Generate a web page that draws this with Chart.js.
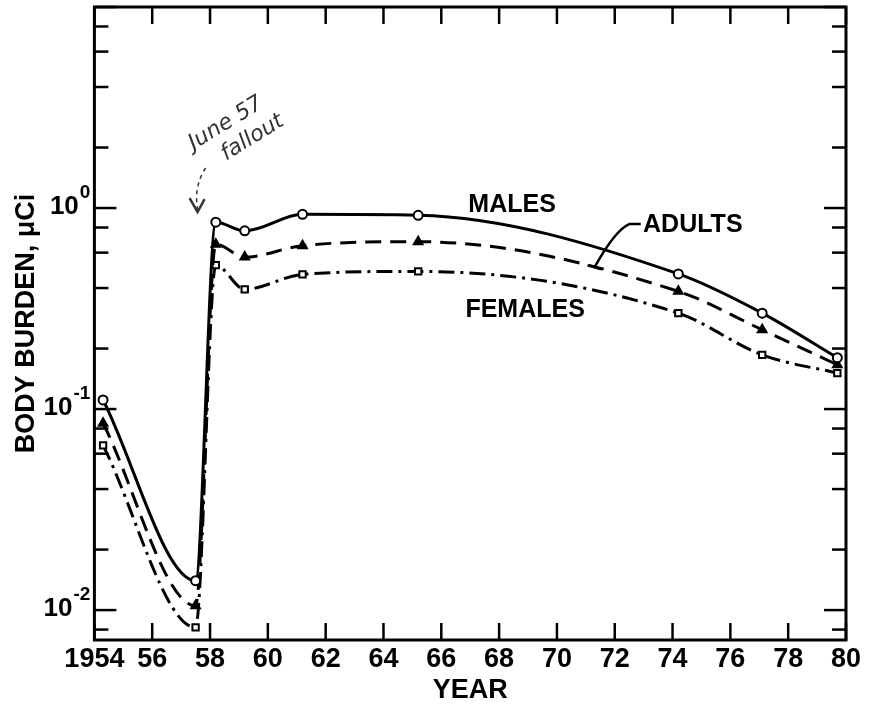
<!DOCTYPE html>
<html>
<head>
<meta charset="utf-8">
<script src="https://cdn.jsdelivr.net/npm/chart.js@4.4.0/dist/chart.umd.min.js"></script>
<style>
  html, body { margin: 0; padding: 0; background: #fff; }
  canvas { display: block; }
</style>
</head>
<body>
<canvas id="chart" width="887" height="704"></canvas>
<script>
// body burden, uCi
const years   = [1954.3, 1957.5, 1958.2, 1959.2, 1961.2, 1965.2, 1974.2, 1977.1, 1979.7];
const males   = [0.111, 0.0140, 0.85, 0.77, 0.93, 0.92, 0.47, 0.30, 0.18];
const adults  = [0.085, 0.0105, 0.66, 0.57, 0.65, 0.68, 0.385, 0.248, 0.166];
const females = [0.066, 0.0082, 0.52, 0.394, 0.468, 0.484, 0.30, 0.186, 0.151];

// axis ticks
const yMajor = [0.01, 0.1, 1, 10];
const yMinor = [0.008, 0.02, 0.04, 0.06, 0.08, 0.2, 0.4, 0.6, 0.8, 2, 4, 6, 8];
const yLabelValues = [0.01, 0.1, 1];
const yLabelExps = ['-2', '-1', '0'];

const FONT = '"Liberation Sans", Arial, sans-serif';

function series(label, vals, extra) {
  return Object.assign({
    label: label,
    data: years.map((x, i) => ({ x: x, y: vals[i] })),
    borderColor: '#000',
    borderWidth: 3,
    fill: false,
    cubicInterpolationMode: 'monotone',
    pointRadius: 4.5,
    pointBorderWidth: 2,
    pointBorderColor: '#000',
    pointBackgroundColor: '#fff'
  }, extra);
}

// frame, inward ticks, decade labels and the notes written on the plot
const decorations = {
  id: 'decorations',
  afterDraw(chart) {
    const { ctx, chartArea: a, scales: { x, y } } = chart;
    ctx.save();
    ctx.strokeStyle = '#000';
    ctx.fillStyle = '#000';
    ctx.lineCap = 'butt';

    const seg = (x1, y1, x2, y2) => {
      ctx.beginPath(); ctx.moveTo(x1, y1); ctx.lineTo(x2, y2); ctx.stroke();
    };

    ctx.lineWidth = 3;
    ctx.strokeRect(a.left, a.top, a.right - a.left, a.bottom - a.top);

    ctx.lineWidth = 2.5;
    x.ticks.forEach(t => {
      const px = x.getPixelForValue(t.value);
      seg(px, a.bottom, px, a.bottom - 17);
      seg(px, a.top, px, a.top + 17);
    });
    y.ticks.forEach(t => {
      const py = y.getPixelForValue(t.value);
      const len = t.major ? 22 : 14;
      seg(a.left, py, a.left + len, py);
      seg(a.right, py, a.right - len, py);
    });

    // 10^n labels
    ctx.textBaseline = 'middle';
    yLabelValues.forEach((v, i) => {
      const py = y.getPixelForValue(v);
      ctx.font = 'bold 19px ' + FONT;
      ctx.textAlign = 'right';
      const ew = ctx.measureText(yLabelExps[i]).width;
      ctx.fillText(yLabelExps[i], a.left - 4, py - 15);
      ctx.font = 'bold 26px ' + FONT;
      ctx.fillText('10', a.left - 5 - ew, py - 1);
    });

    // curve names
    ctx.font = 'bold 25px ' + FONT;
    ctx.textAlign = 'center';
    ctx.fillText('MALES', x.getPixelForValue(1968.45), y.getPixelForValue(1.035));
    ctx.fillText('ADULTS', x.getPixelForValue(1974.7), y.getPixelForValue(0.822));
    ctx.fillText('FEMALES', x.getPixelForValue(1968.9), y.getPixelForValue(0.309));

    // leader from ADULTS to its curve
    ctx.lineWidth = 2.5;
    const l1 = [x.getPixelForValue(1972.9), y.getPixelForValue(0.832)];
    const l2 = [x.getPixelForValue(1972.5), y.getPixelForValue(0.832)];
    const l3 = [x.getPixelForValue(1971.3), y.getPixelForValue(0.507)];
    ctx.beginPath();
    ctx.moveTo(l1[0], l1[1]);
    ctx.lineTo(l2[0], l2[1]);
    ctx.quadraticCurveTo(l2[0] - 14, l2[1] + 6, l3[0], l3[1]);
    ctx.stroke();
    seg(l3[0] - 7, l3[1] - 2, l3[0] + 7, l3[1] + 2);

    // handwritten note with arrow
    const bx = x.getPixelForValue(1957.5);
    const by = y.getPixelForValue(1);
    ctx.fillStyle = '#333';
    ctx.strokeStyle = '#333';
    ctx.font = 'italic 22px "DejaVu Sans", sans-serif';
    ctx.textAlign = 'left';
    ctx.textBaseline = 'alphabetic';
    ctx.save();
    ctx.translate(bx - 2, by - 58);
    ctx.rotate(-0.55);
    ctx.fillText('June 57', 0, 0);
    ctx.fillText('fallout', 22, 26);
    ctx.restore();
    ctx.lineWidth = 1.5;
    ctx.setLineDash([4, 4]);
    ctx.beginPath();
    ctx.moveTo(bx + 10, by - 40);
    ctx.quadraticCurveTo(bx - 2, by - 22, bx + 2, by + 2);
    ctx.stroke();
    ctx.setLineDash([]);
    ctx.lineWidth = 2.5;
    ctx.beginPath();
    ctx.moveTo(bx - 6, by - 10);
    ctx.lineTo(bx + 2, by + 4);
    ctx.lineTo(bx + 9, by - 9);
    ctx.stroke();

    ctx.restore();
  }
};

new Chart(document.getElementById('chart'), {
  type: 'line',
  data: {
    datasets: [
      series('MALES', males, { pointStyle: 'circle' }),
      series('ADULTS', adults, { pointStyle: 'triangle', pointRadius: 5, pointBackgroundColor: '#000', borderDash: [16, 9] }),
      series('FEMALES', females, { pointStyle: 'rect', borderDash: [16, 6, 3, 6] })
    ]
  },
  options: {
    responsive: false,
    animation: false,
    devicePixelRatio: 1,
    layout: { padding: { left: 6, right: 41, top: 6, bottom: 0 } },
    plugins: { legend: { display: false }, tooltip: { enabled: false } },
    scales: {
      x: {
        type: 'linear',
        min: 1954,
        max: 1980,
        grid: { display: false, drawTicks: false },
        border: { display: false },
        ticks: {
          stepSize: 2,
          autoSkip: false,
          maxRotation: 0,
          padding: 6,
          color: '#000',
          font: { family: FONT, size: 27, weight: 'bold', lineHeight: 1 },
          callback: v => v === 1954 ? '1954' : String(v).slice(2)
        },
        title: {
          display: true,
          text: 'YEAR',
          color: '#000',
          font: { family: FONT, size: 27, weight: 'bold', lineHeight: 1 },
          padding: { top: -2, bottom: 0 }
        }
      },
      y: {
        type: 'logarithmic',
        min: 0.0071,
        max: 10,
        grid: { display: false, drawTicks: false },
        border: { display: false },
        ticks: { display: false },
        afterBuildTicks: s => {
          s.ticks = yMajor.concat(yMinor).sort((p, q) => p - q)
            .map(v => ({ value: v, major: yMajor.includes(v) }));
        },
        title: {
          display: true,
          text: 'BODY BURDEN, μCi',
          color: '#000',
          font: { family: FONT, size: 27, weight: 'bold', lineHeight: 1.2 },
          padding: { top: 4, bottom: 52 }
        }
      }
    }
  },
  plugins: [decorations]
});
</script>
</body>
</html>
